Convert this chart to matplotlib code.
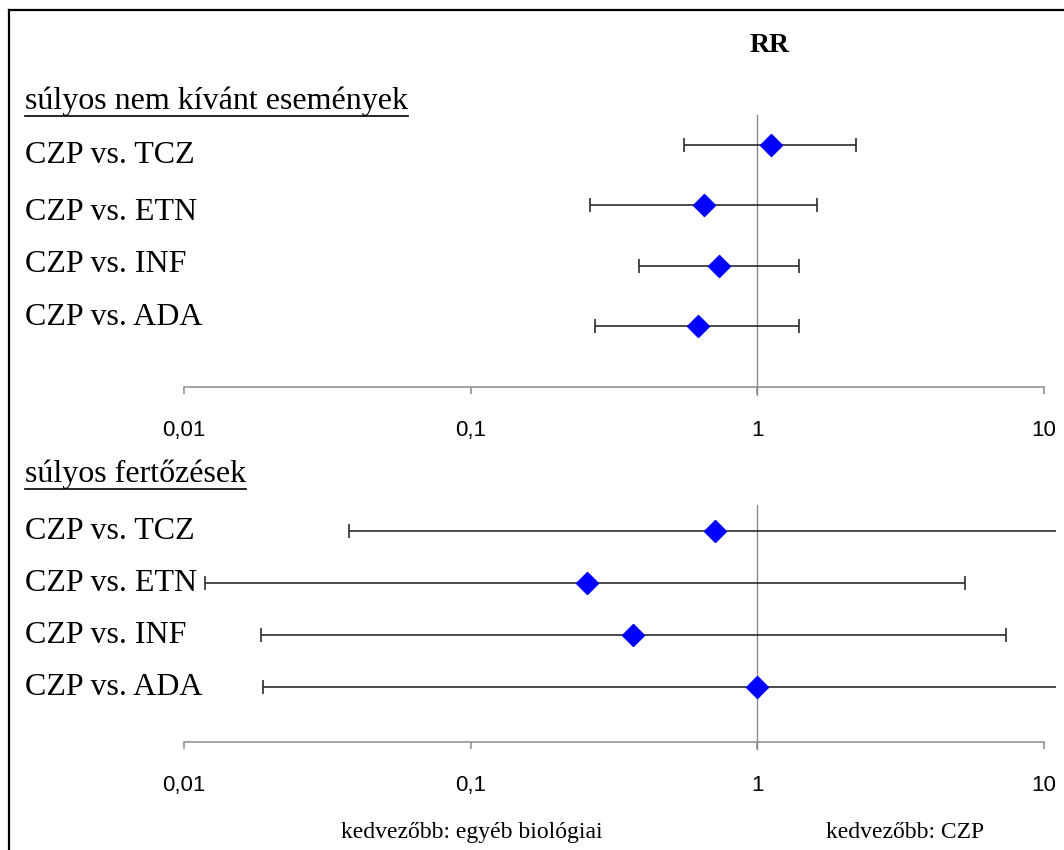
import matplotlib

matplotlib.use("Agg")
import matplotlib.pyplot as plt
from matplotlib.lines import Line2D
from matplotlib.transforms import blended_transform_factory, offset_copy

# relative risk (RR) with 95% CI, CZP against the other biologics
COMPARISONS = ["CZP vs. TCZ", "CZP vs. ETN", "CZP vs. INF", "CZP vs. ADA"]

SAE_RR = [1.12, 0.655, 0.735, 0.622]
SAE_LO = [0.555, 0.262, 0.388, 0.273]
SAE_HI = [2.21, 1.62, 1.40, 1.40]

INF_RR = [0.713, 0.255, 0.368, 1.0]
INF_LO = [0.0377, 0.0118, 0.0186, 0.0188]
INF_HI = [15.0, 5.32, 7.40, 15.0]  # TCZ and ADA run off the right end of the scale

TICKS = [0.01, 0.1, 1, 10]
TICK_LABELS = ["0,01", "0,1", "1", "10"]

SERIF = "Liberation Serif"
SANS = "Liberation Sans"
W, H = 1064, 850


def fx(px):
    return px / W


def fy(px):
    return 1 - px / H


def forest(ax, rr, lo, hi, ylim):
    ypos = range(len(rr))
    xerr = [[r - l for r, l in zip(rr, lo)], [h - r for r, h in zip(rr, hi)]]
    ax.errorbar(rr, ypos, xerr=xerr, fmt="none", ecolor="#2b2b2b",
                elinewidth=1.2, capsize=5, capthick=1.2, zorder=2)
    ax.plot(rr, ypos, "D", color="#0000ff", ms=11.5, mec="#0000ff", zorder=3)
    ax.set_xscale("log")
    ax.set_xlim(10 ** -2.0838, 10 ** 1.0436)
    ax.set_ylim(*ylim)
    ax.axvline(1, ymin=-0.03, ymax=1, color="#8a8a8a", lw=1.0, clip_on=False, zorder=1)
    for side in ("left", "right", "top"):
        ax.spines[side].set_visible(False)
    ax.spines["bottom"].set_bounds(0.01, 10)
    ax.spines["bottom"].set_color("#8a8a8a")
    ax.spines["bottom"].set_linewidth(1.1)
    ax.set_yticks([])
    ax.set_xticks(TICKS)
    ax.set_xticklabels(TICK_LABELS, fontfamily=SANS, fontsize=16)
    ax.xaxis.set_minor_locator(matplotlib.ticker.NullLocator())
    ax.tick_params(axis="x", direction="out", length=5, width=1.1,
                   color="#8a8a8a", pad=19)
    ax.patch.set_alpha(0)


fig = plt.figure(figsize=(W / 100, H / 100), dpi=100)

ax_top = fig.add_axes([fx(160), fy(387), fx(896), 272 / H])
forest(ax_top, SAE_RR, SAE_LO, SAE_HI, (4.011, -0.497))

ax_bot = fig.add_axes([fx(160), fy(742), fx(896), 237 / H])
forest(ax_bot, INF_RR, INF_LO, INF_HI, (4.058, -0.5))

fig.text(fx(770), fy(52), "RR", ha="center", va="baseline",
         fontfamily=SERIF, fontsize=20, fontweight="bold")

# row labels: the upper block is spaced a little tighter than its rows
top_label_base = [163, 220, 272, 325]
for name, yb in zip(COMPARISONS, top_label_base):
    fig.text(fx(25), fy(yb), name, ha="left", va="baseline",
             fontfamily=SERIF, fontsize=23)

trans = offset_copy(blended_transform_factory(fig.transFigure, ax_bot.transData),
                    fig=fig, y=-8, units="dots")
for i, name in enumerate(COMPARISONS):
    fig.text(fx(25), i, name, ha="left", va="baseline",
             fontfamily=SERIF, fontsize=23, transform=trans)

headers = [
    fig.text(fx(25), fy(109), "súlyos nem kívánt események", ha="left",
             va="baseline", fontfamily=SERIF, fontsize=23),
    fig.text(fx(25), fy(482), "súlyos fertőzések", ha="left",
             va="baseline", fontfamily=SERIF, fontsize=23),
]

fig.text(fx(472), fy(838), "kedvezőbb: egyéb biológiai", ha="center",
         va="baseline", fontfamily=SERIF, fontsize=17)
fig.text(fx(905), fy(838), "kedvezőbb: CZP", ha="center",
         va="baseline", fontfamily=SERIF, fontsize=17)

# underline the two section headers
fig.canvas.draw()
inv = fig.transFigure.inverted()
for t in headers:
    bb = t.get_window_extent()
    (x0, _), (x1, _) = inv.transform([[bb.x0, bb.y0], [bb.x1, bb.y0]])
    _, yb = t.get_position()
    fig.add_artist(Line2D([x0, x1], [yb - 7 / H, yb - 7 / H], color="black", lw=1.2))

# outer frame (left and top edges only show)
fig.add_artist(Line2D([fx(9), fx(9)], [0, fy(10)], color="black", lw=1.6))
fig.add_artist(Line2D([fx(9), 1], [fy(10), fy(10)], color="black", lw=1.6))

fig.savefig("out.png", dpi=100)
